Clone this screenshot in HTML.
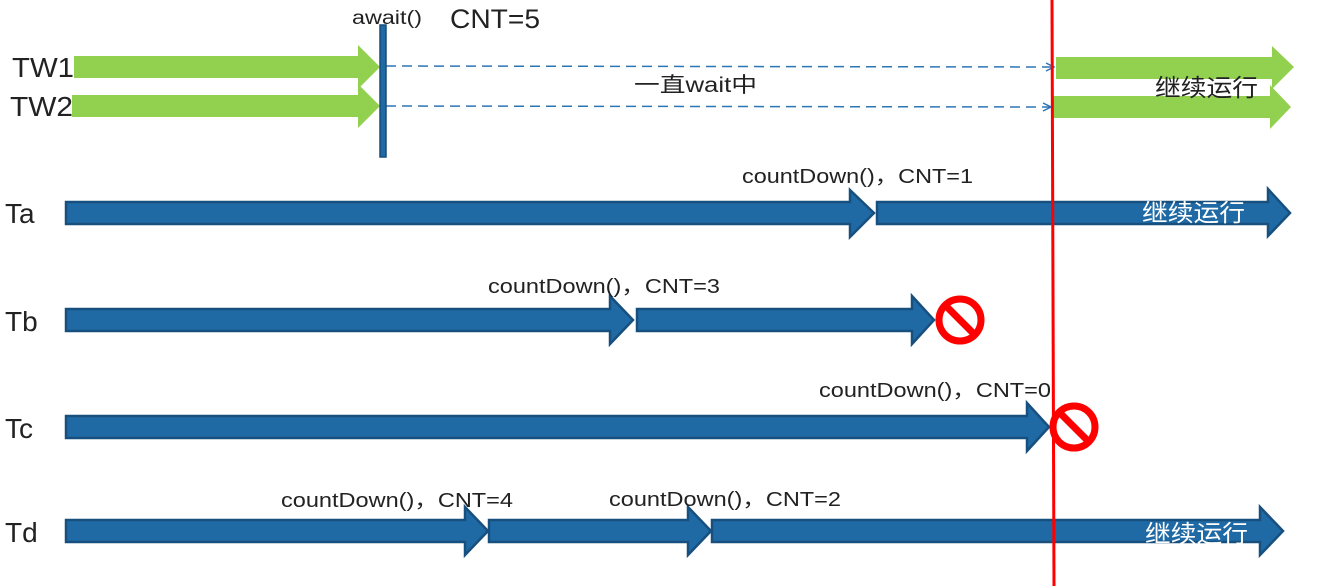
<!DOCTYPE html>
<html><head><meta charset="utf-8"><style>
html,body{margin:0;padding:0;background:#fff;}
svg{display:block;}
text{font-family:"Liberation Sans","Noto Sans CJK SC",sans-serif;fill:#222;}
</style></head><body>
<svg width="1328" height="586" viewBox="0 0 1328 586" xmlns="http://www.w3.org/2000/svg">
<defs>
<marker id="oa" markerWidth="10" markerHeight="10" refX="9" refY="5" orient="auto" markerUnits="userSpaceOnUse">
<path d="M1,1 L9,5 L1,9" fill="none" stroke="#2e75b6" stroke-width="1.5"/></marker>
</defs>
<polygon points="74,56 358,56 358,45 380,67 358,89 358,78 74,78" fill="#92d050"/>
<polygon points="72,95 358,95 358,84 380,106 358,128 358,117 72,117" fill="#92d050"/>
<polygon points="1056,57 1272,57 1272,46 1294,67 1272,89 1272,79 1056,79" fill="#92d050"/>
<polygon points="1053,96 1270,96 1270,85 1291,107 1270,129 1270,118 1053,118" fill="#92d050"/>
<line x1="386" y1="66" x2="1054" y2="67" stroke="#2e75b6" stroke-width="1.5" stroke-dasharray="10,6" marker-end="url(#oa)"/>
<line x1="386" y1="106" x2="1051" y2="107" stroke="#2e75b6" stroke-width="1.5" stroke-dasharray="10,6" marker-end="url(#oa)"/>
<rect x="380" y="25" width="6" height="132" fill="#1f6aa5" stroke="#174e7c" stroke-width="1.5"/>
<text x="352" y="24" font-size="19" textLength="70" lengthAdjust="spacingAndGlyphs">await()</text>
<text x="450" y="28" font-size="27" textLength="90" lengthAdjust="spacingAndGlyphs">CNT=5</text>
<text x="634" y="92" font-size="21" fill="#444" textLength="123" lengthAdjust="spacingAndGlyphs">一直wait中</text>
<text x="12" y="77" font-size="28" textLength="62" lengthAdjust="spacingAndGlyphs">TW1</text>
<text x="10" y="116" font-size="28" textLength="63" lengthAdjust="spacingAndGlyphs">TW2</text>
<text x="1155" y="96" font-size="24" fill="#444" textLength="103" lengthAdjust="spacingAndGlyphs">继续运行</text>
<g fill="#1f6aa5" stroke="#17507f" stroke-width="2.5" stroke-linejoin="miter">
<polygon points="66,202 850,202 850,190 874,213 850,237 850,224 66,224"/>
<polygon points="877,202 1268,202 1268,189 1290,213 1268,236 1268,224 877,224"/>
<polygon points="66,309 610,309 610,296 633,320 610,344 610,331 66,331"/>
<polygon points="637,309 912,309 912,296 934,320 912,344 912,331 637,331"/>
<polygon points="66,416 1027,416 1027,403 1049,427 1027,451 1027,438 66,438"/>
<polygon points="66,520 465,520 465,507 488,531 465,555 465,542 66,542"/>
<polygon points="489,520 688,520 688,507 711,531 688,555 688,542 489,542"/>
<polygon points="712,520 1260,520 1260,507 1283,531 1260,555 1260,542 712,542"/>
</g>
<text x="1142" y="221" font-size="24" style="fill:#fff" textLength="103" lengthAdjust="spacingAndGlyphs">继续运行</text>
<text x="1145" y="542" font-size="24" style="fill:#fff" textLength="103" lengthAdjust="spacingAndGlyphs">继续运行</text>
<text x="5" y="223" font-size="28">Ta</text>
<text x="5" y="331" font-size="28">Tb</text>
<text x="5" y="438" font-size="28">Tc</text>
<text x="5" y="542" font-size="28">Td</text>
<g font-size="20" lengthAdjust="spacingAndGlyphs">
<text x="742" y="183" textLength="231" lengthAdjust="spacingAndGlyphs">countDown()，CNT=1</text>
<text x="488" y="293" textLength="232" lengthAdjust="spacingAndGlyphs">countDown()，CNT=3</text>
<text x="819" y="397" textLength="232" lengthAdjust="spacingAndGlyphs">countDown()，CNT=0</text>
<text x="281" y="507" textLength="232" lengthAdjust="spacingAndGlyphs">countDown()，CNT=4</text>
<text x="609" y="506" textLength="232" lengthAdjust="spacingAndGlyphs">countDown()，CNT=2</text>
</g>
<g stroke="#f00" fill="none" stroke-width="7">
<circle cx="960" cy="320" r="21"/>
<line x1="946" y1="306" x2="974" y2="334"/>
<circle cx="1074" cy="427" r="21"/>
<line x1="1060" y1="413" x2="1088" y2="441"/>
</g>
<line x1="1052" y1="0" x2="1054" y2="586" stroke="#f00" stroke-width="3"/>
</svg>
</body></html>
